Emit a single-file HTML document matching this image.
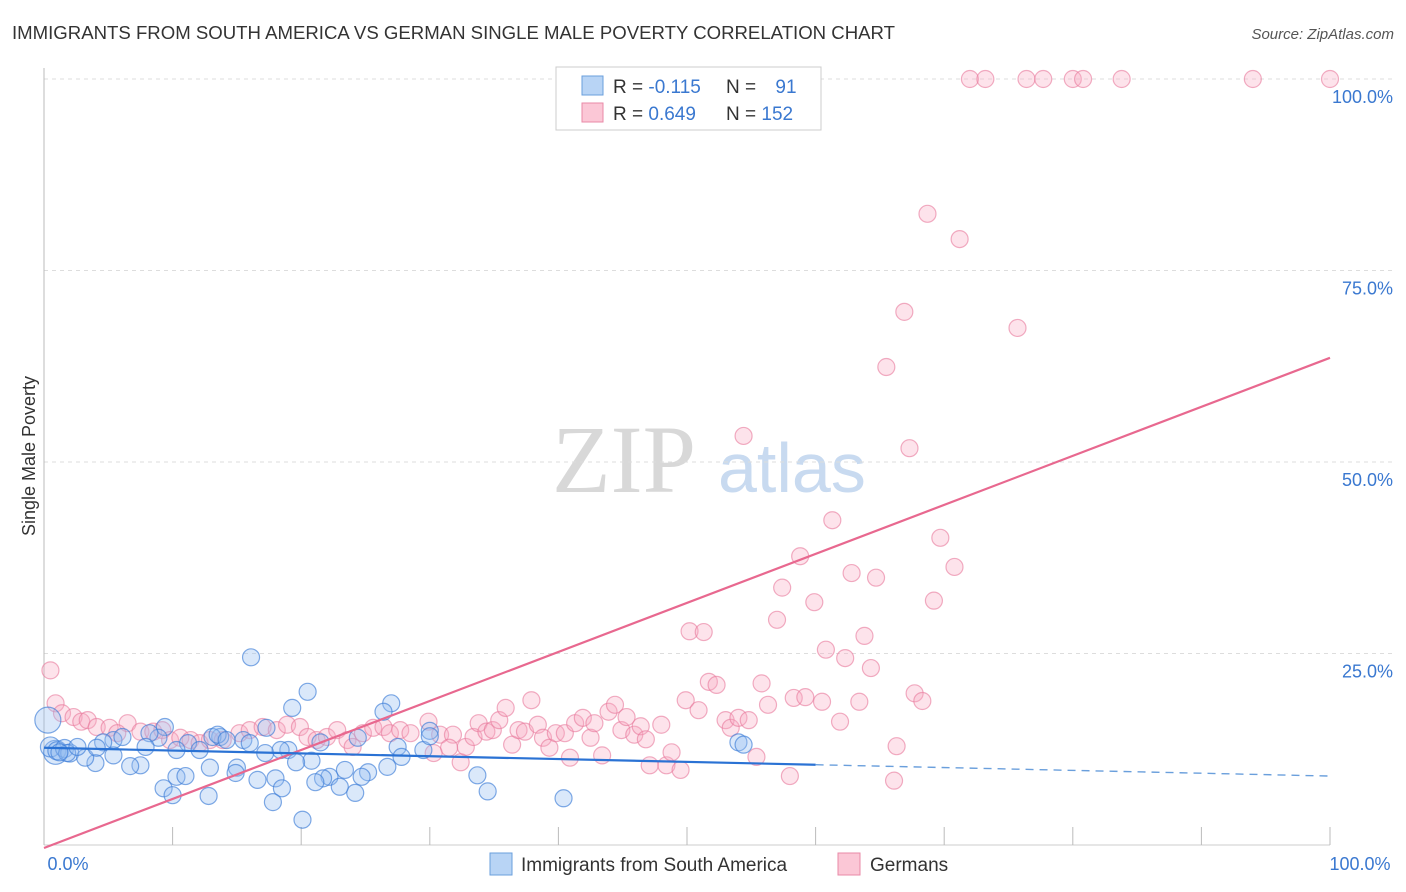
<!DOCTYPE html>
<html><head><meta charset="utf-8">
<style>
body{margin:0;background:#fff;font-family:"Liberation Sans",sans-serif;}
#wrap{position:relative;width:1406px;height:892px;overflow:hidden;}
</style></head>
<body>
<div id="wrap">
<svg id="chart" width="1406" height="892" xmlns="http://www.w3.org/2000/svg">
<text x="12" y="39" font-size="18" fill="#333" textLength="883" lengthAdjust="spacingAndGlyphs">IMMIGRANTS FROM SOUTH AMERICA VS GERMAN SINGLE MALE POVERTY CORRELATION CHART</text>
<text x="1394" y="39" font-size="15" fill="#555" text-anchor="end" font-style="italic">Source: ZipAtlas.com</text>
<text x="35" y="456" font-size="18" fill="#333" text-anchor="middle" transform="rotate(-90 35 456)">Single Male Poverty</text>
<g>
<text x="552" y="492" font-size="96" fill="#d8d8d8" font-family="Liberation Serif,serif">ZIP</text>
<text x="718" y="492" font-size="70" fill="#c8daf0">atlas</text>
</g>
<g id="grid"></g>
<g id="pts"></g>
<g id="trends"></g>
<g>
<rect x="556" y="67" width="265" height="63" fill="#fff" stroke="#ccc"/>
<rect x="582" y="76" width="21" height="19" fill="#b8d4f5" stroke="#6a9fdc"/>
<rect x="582" y="103" width="21" height="19" fill="#fbc7d6" stroke="#e88aa7"/>
<text x="613" y="93" font-size="19" fill="#333">R = <tspan fill="#3a78d0">-0.115</tspan></text>
<text x="726" y="93" font-size="19" fill="#333">N = <tspan fill="#3a78d0" dx="14">91</tspan></text>
<text x="613" y="120" font-size="19" fill="#333">R = <tspan fill="#3a78d0">0.649</tspan></text>
<text x="726" y="120" font-size="19" fill="#333">N = <tspan fill="#3a78d0">152</tspan></text>
</g>
<g>
<rect x="490" y="853" width="22" height="22" fill="#b8d4f5" stroke="#6a9fdc"/>
<text x="521" y="871" font-size="19" fill="#333">Immigrants from South America</text>
<rect x="838" y="853" width="22" height="22" fill="#fbc7d6" stroke="#e88aa7"/>
<text x="870" y="871" font-size="19" fill="#333">Germans</text>
</g>
</svg>
</div>
<script>
const yTicks=[25,50,75,100];
const yTickLabels=["25.0%","50.0%","75.0%","100.0%"];
const xTicks=[0,10,20,30,40,50,60,70,80,90,100];
const pinkX=[0.5,0.9,1.4,2.3,2.9,3.4,4.1,5.1,6.5,5.7,7.5,8.5,9.2,9.8,10.6,11.4,12.1,12.9,13.9,15.2,16.0,17.0,18.1,18.9,19.9,20.5,21.2,22.0,22.8,23.6,24.0,24.8,25.6,26.4,26.9,27.7,28.5,29.9,30.8,31.8,31.5,30.3,32.4,32.8,33.4,33.8,34.4,34.9,35.4,35.9,36.4,36.9,37.4,37.9,38.4,38.8,39.3,39.8,40.5,40.9,41.3,41.9,42.5,42.8,43.4,43.9,44.4,44.9,45.3,45.9,46.4,46.8,47.1,48.0,48.4,48.8,49.5,49.9,50.9,51.7,52.3,53.0,53.4,54.0,54.8,55.4,55.8,56.3,58.0,58.3,59.2,60.5,60.8,61.9,62.3,63.4,64.3,66.3,66.1,67.7,68.3,54.4,57.0,57.4,58.8,59.9,61.3,62.8,63.8,64.7,65.5,66.9,67.3,68.7,69.2,69.7,70.8,71.2,75.7,50.2,51.3,72.0,73.2,76.4,77.7,80.0,80.8,83.8,94.0,100.0];
const pinkY=[22.8,18.5,17.2,16.7,16.1,16.3,15.4,15.3,15.9,14.6,14.8,14.8,15.0,13.7,14.0,13.7,13.3,13.7,13.7,14.6,15.0,15.4,15.0,15.7,15.4,14.1,13.7,14.1,15.0,13.7,12.8,14.6,15.3,15.4,14.6,15.0,14.6,16.1,14.4,14.4,12.7,12.0,10.8,12.8,14.1,15.9,14.8,15.0,16.3,17.9,13.1,15.0,14.8,18.9,15.7,14.0,12.7,14.6,14.6,11.4,15.9,16.6,14.0,15.9,11.7,17.4,18.3,15.0,16.7,14.4,15.5,13.8,10.4,15.7,10.4,12.1,9.8,18.9,17.6,21.3,20.9,16.3,15.3,16.6,16.3,11.5,21.1,18.3,9.0,19.2,19.3,18.7,25.5,16.1,24.4,18.7,23.1,12.9,8.4,19.8,18.8,53.4,29.4,33.6,37.7,31.7,42.4,35.5,27.3,34.9,62.4,69.6,51.8,82.4,31.9,40.1,36.3,79.1,67.5,27.9,27.8,100,100,100,100,100,100,100,100,100];
const blueX=[0.3,0.9,0.5,1.0,1.6,2.0,16.1,20.5,19.3,27.0,26.4,9.4,30.0,29.5,27.5,27.8,26.7,24.4,23.4,25.2,24.7,24.2,21.5,20.8,22.2,21.7,21.1,23.0,20.1,19.0,19.6,18.0,18.5,17.8,17.3,17.2,16.6,15.0,14.9,12.8,13.7,13.1,10.3,11.0,9.3,10.0,12.9,11.2,10.3,8.9,8.2,7.9,7.5,6.7,5.4,4.0,3.2,1.8,1.2,2.6,5.4,4.6,4.1,6.1,15.5,16.0,13.5,14.2,12.1,18.4,33.7,34.5,40.4,30.0,54.0,54.4];
const blueY=[16.3,12.1,12.8,12.3,12.6,12.0,24.5,20.0,17.9,18.5,17.4,15.4,14.9,12.4,12.8,11.5,10.2,14.0,9.8,9.5,8.9,6.8,13.4,11.0,8.9,8.7,8.2,7.6,3.3,12.4,10.8,8.7,7.4,5.6,15.3,12.0,8.5,10.1,9.4,6.4,14.1,14.1,8.9,9.0,7.4,6.5,10.1,13.3,12.4,14.0,14.6,12.8,10.4,10.3,11.7,10.7,11.4,12.0,12.1,12.8,13.7,13.4,12.7,14.1,13.7,13.3,14.4,13.7,12.4,12.4,9.1,7.0,6.1,14.2,13.4,13.1];
const blueR=[13,12,10,9,9,9];
const pinkTrend=[0,63.6];
const blueTrend=[12.7,9.0];
const blueSolidEnd=60;

const NS="http://www.w3.org/2000/svg";
const X0=44,X1=1330,Y0=845,Y1=79;
const sx=v=>X0+(X1-X0)*v/100;
const sy=v=>Y0-(Y0-Y1)*v/100;
function mk(tag,attrs,parent){const e=document.createElementNS(NS,tag);for(const k in attrs)e.setAttribute(k,attrs[k]);parent.appendChild(e);return e;}

const grid=document.getElementById('grid');
yTicks.forEach((t,i)=>{
  const l=mk('line',{x1:X0,x2:1395,y1:sy(t),y2:sy(t),stroke:'#ddd','stroke-dasharray':'4,4'},grid);
  
  
  const tx=mk('text',{x:1393,y:sy(t)+24,'font-size':18,fill:'#3a78d0','text-anchor':'end'},grid);
  tx.textContent=yTickLabels[i];
  
  
});
const ax=mk('line',{x1:X0,x2:X0,y1:68,y2:Y0,stroke:'#bbb'},grid);


const bx=mk('line',{x1:X0,x2:X1,y1:Y0,y2:Y0,stroke:'#ccc'},grid);


xTicks.forEach(t=>{
  const l=mk('line',{x1:sx(t),x2:sx(t),y1:Y0,y2:Y0-18,stroke:'#bbb'},grid);
  
  
});
[[0,"0.0%",68],[100,"100.0%",1360]].forEach(d=>{
  const tx=mk('text',{x:d[2],y:870,'font-size':18,fill:'#3a78d0','text-anchor':'middle'},grid);
  tx.textContent=d[1];
  
  
});

const pts=document.getElementById('pts');
pinkX.forEach((x,i)=>{
  const c=mk('circle',{cx:sx(x),cy:sy(pinkY[i]),r:8.5,fill:'rgba(248,170,195,0.33)',stroke:'rgba(232,120,155,0.6)','stroke-width':1.2},pts);
  
  
});
blueX.forEach((x,i)=>{
  const c=mk('circle',{cx:sx(x),cy:sy(blueY[i]),r:blueR[i]||8.5,fill:'rgba(150,190,240,0.35)',stroke:'rgba(60,125,215,0.65)','stroke-width':1.2},pts);
  
  
});

const tr=document.getElementById('trends');
const pl=mk('line',{x1:sx(0),y1:sy(pinkTrend[0])+3,x2:sx(100),y2:sy(pinkTrend[1]),stroke:'#e8688f','stroke-width':2.2},tr);


const bAt=x=>blueTrend[0]+(blueTrend[1]-blueTrend[0])*x/100;
const bl=mk('line',{x1:sx(0),y1:sy(bAt(0)),x2:sx(blueSolidEnd),y2:sy(bAt(blueSolidEnd)),stroke:'#2a72d4','stroke-width':2.2},tr);


const bd=mk('line',{x1:sx(blueSolidEnd),y1:sy(bAt(blueSolidEnd)),x2:sx(100),y2:sy(bAt(100)),stroke:'#6a9fdc','stroke-width':1.4,'stroke-dasharray':'8,6'},tr);


</script>
</body></html>
